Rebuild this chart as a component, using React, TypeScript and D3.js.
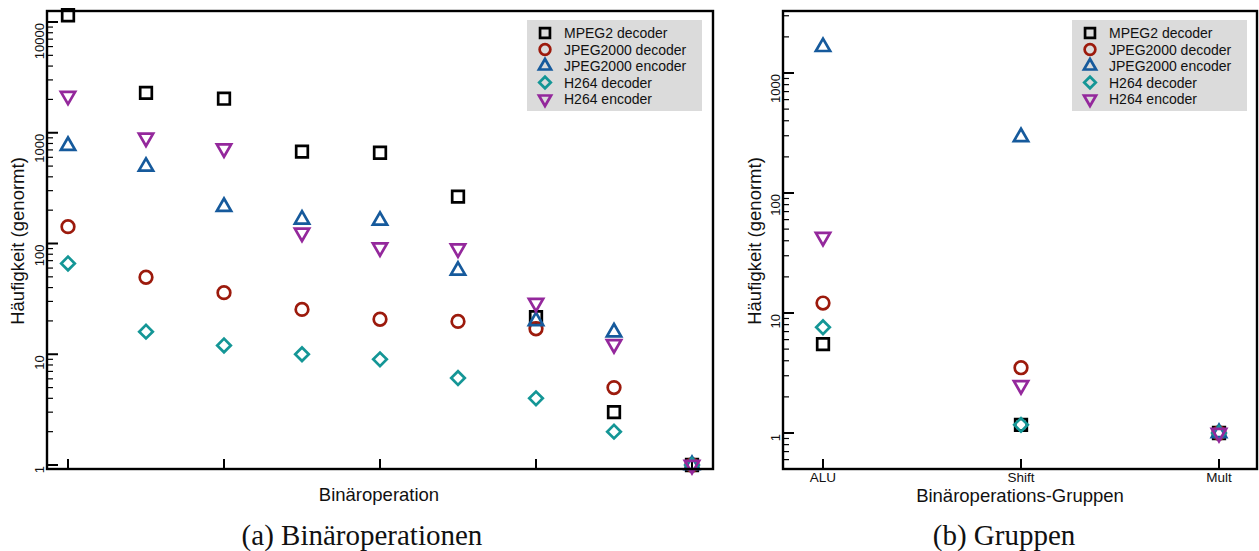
import * as d3 from "d3";

// left panel: nine binary operations (no tick labels in the original)
const opIndex = [0, 1, 2, 3, 4, 5, 6, 7, 8];
const mpeg2Dec = [11500, 2290, 2030, 675, 660, 265, 21.6, 3.0, 1];
const jpegDec = [142, 49.6, 36, 25.4, 20.7, 19.8, 17, 5.0, 1];
const jpegEnc = [763, 495, 215, 165, 161, 57, 20, 15.8, 1];
const h264Dec = [66, 16, 12, 10, 9, 6.1, 4.0, 2.0, 1];
const h264Enc = [2150, 900, 720, 125, 92, 90, 29, 12.3, 1];

// right panel: operation groups
const groups = ["ALU", "Shift", "Mult"];
const mpeg2DecG = [5.5, 1.17, 1];
const jpegDecG = [12.1, 3.5, 1];
const jpegEncG = [1650, 293, 1];
const h264DecG = [7.6, 1.17, 1];
const h264EncG = [43, 2.5, 1];

const seriesNames = ["MPEG2 decoder", "JPEG2000 decoder", "JPEG2000 encoder", "H264 decoder", "H264 encoder"];
const colors = ["#000000", "#9c1a0c", "#165a9c", "#149696", "#94289c"];
const shapes = ["square", "circle", "triUp", "diamond", "triDown"];

const leftData = [mpeg2Dec, jpegDec, jpegEnc, h264Dec, h264Enc];
const rightData = [mpeg2DecG, jpegDecG, jpegEncG, h264DecG, h264EncG];

const sans = "'Liberation Sans', Arial, Helvetica, sans-serif";
const serif = "'Liberation Serif', 'DejaVu Serif', serif";

const symbolPath = (shape: string, k = 1) => {
  if (shape === "square") return d3.symbol(d3.symbolSquare, 135 * k * k)();
  if (shape === "circle") return d3.symbol(d3.symbolCircle, 125 * k * k)();
  if (shape === "diamond") return d3.symbol(d3.symbolSquare, 92 * k * k)();
  return d3.symbol(d3.symbolTriangle, 88 * k * k)();
};
const symbolRot = (shape: string) => (shape === "diamond" ? 45 : shape === "triDown" ? 180 : 0);

const Marker = ({ shape, color, x, y, k = 1 }) => (
  <path
    d={symbolPath(shape, k)}
    transform={`translate(${x},${y}) rotate(${symbolRot(shape)})`}
    fill="none"
    stroke={color}
    strokeWidth={2.7}
  />
);

const Legend = ({ x, y }) => (
  <g transform={`translate(${x},${y})`}>
    <rect x={0} y={0} width={175} height={91} fill="#dbdbdb" />
    {seriesNames.map((name, i) => (
      <g key={name} transform={`translate(0,${13 + i * 16.5})`}>
        <Marker shape={shapes[i]} color={colors[i]} x={18} y={0} k={0.85} />
        <text x={37} y={5} fontSize={14} fontFamily={sans} fill="#111">{name}</text>
      </g>
    ))}
  </g>
);

const LogAxis = ({ y, left, top, bottom }) => {
  const lo = y.invert(bottom);
  const hi = y.invert(top);
  const ticks = d3.scaleLog().domain([lo, hi]).ticks();
  return (
    <g>
      {ticks.map((t) => {
        const major = Math.abs(Math.log10(t) - Math.round(Math.log10(t))) < 1e-9;
        const ty = y(t);
        return (
          <g key={t}>
            <line x1={left} x2={left + (major ? 11 : 6)} y1={ty} y2={ty} stroke="#000" strokeWidth={major ? 2 : 1.2} />
            {major && (
              <text
                transform={`translate(${left - 3},${ty + 1}) rotate(-90)`}
                textAnchor="end"
                fontSize={13}
                fontFamily={sans}
                fill="#111"
              >
                {d3.format("d")(t)}
              </text>
            )}
          </g>
        );
      })}
    </g>
  );
};

export default function App() {
  const top = 11;
  const bottom = 469;

  // left panel
  const lx0 = 47;
  const lx1 = 713;
  const xL = d3.scaleLinear().domain([0, 8]).range([68, 692]);
  const yL = d3.scaleLog().domain([1, 10000]).range([465, 22]);

  // right panel
  const rx0 = 783;
  const rx1 = 1257;
  const xR = d3.scalePoint().domain(groups).range([823, 1219]);
  const yR = d3.scaleLog().domain([1, 1000]).range([433, 73]);

  return (
    <svg
      width={1259}
      height={551}
      style={{ position: "absolute", left: 0, top: 0, background: "#fff" }}
    >
      {/* ---------- (a) ---------- */}
      <LogAxis y={yL} left={lx0} top={top} bottom={bottom} />
      {opIndex.filter((i) => i % 2 === 0).map((i) => (
        <line key={i} x1={xL(i)} x2={xL(i)} y1={bottom} y2={bottom - 10} stroke="#000" strokeWidth={2} />
      ))}
      <Legend x={527} y={20} />
      {leftData.map((vals, s) =>
        vals.map((v, i) => (
          <Marker key={`${s}-${i}`} shape={shapes[s]} color={colors[s]} x={xL(opIndex[i])} y={yL(v)} />
        ))
      )}
      <rect x={lx0} y={top} width={lx1 - lx0} height={bottom - top} fill="none" stroke="#000" strokeWidth={2.4} />
      <text
        transform={`translate(24,241) rotate(-90)`}
        textAnchor="middle"
        fontSize={18.5}
        fontFamily={sans}
        fill="#111"
      >
        Häufigkeit (genormt)
      </text>
      <text x={379} y={501} textAnchor="middle" fontSize={18.5} fontFamily={sans} fill="#111">
        Binäroperation
      </text>
      <text x={362} y={545} textAnchor="middle" fontSize={29} fontFamily={serif} fill="#111">
        (a) Binäroperationen
      </text>

      {/* ---------- (b) ---------- */}
      <LogAxis y={yR} left={rx0} top={top} bottom={bottom} />
      {groups.map((g) => (
        <g key={g}>
          <line x1={xR(g)} x2={xR(g)} y1={bottom} y2={bottom - 10} stroke="#000" strokeWidth={2} />
          <text x={xR(g)} y={482} textAnchor="middle" fontSize={13.5} fontFamily={sans} fill="#111">{g}</text>
        </g>
      ))}
      <Legend x={1072} y={20} />
      {rightData.map((vals, s) =>
        vals.map((v, i) => (
          <Marker key={`${s}-${i}`} shape={shapes[s]} color={colors[s]} x={xR(groups[i])} y={yR(v)} />
        ))
      )}
      <rect x={rx0} y={top} width={rx1 - rx0} height={bottom - top} fill="none" stroke="#000" strokeWidth={2.4} />
      <text
        transform={`translate(761,241) rotate(-90)`}
        textAnchor="middle"
        fontSize={18.5}
        fontFamily={sans}
        fill="#111"
      >
        Häufigkeit (genormt)
      </text>
      <text x={1020} y={502} textAnchor="middle" fontSize={18.5} fontFamily={sans} fill="#111">
        Binäroperations-Gruppen
      </text>
      <text x={1004} y={545} textAnchor="middle" fontSize={29} fontFamily={serif} fill="#111">
        (b) Gruppen
      </text>
    </svg>
  );
}
